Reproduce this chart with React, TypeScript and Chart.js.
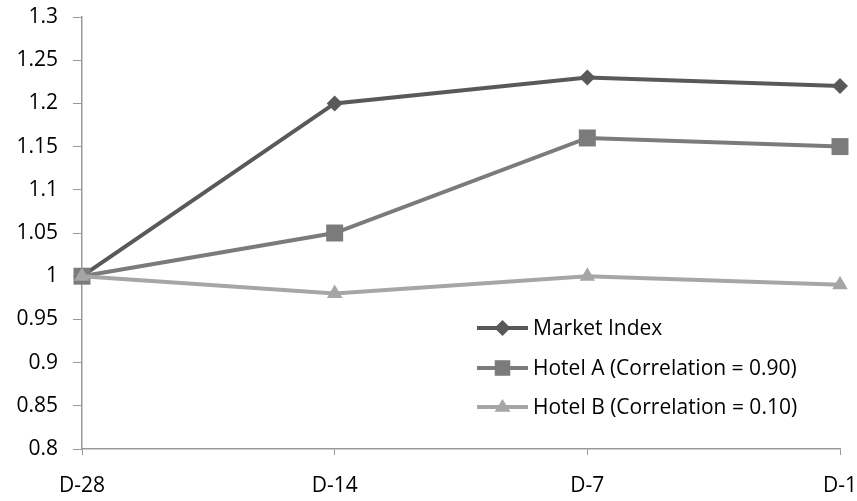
import React, { useEffect, useRef } from "react";
import { Chart, registerables } from "chart.js";

Chart.register(...registerables);

const categories = ["D-28", "D-14", "D-7", "D-1"];
const marketIndex = [1.0, 1.2, 1.23, 1.22];
const hotelA = [1.0, 1.05, 1.16, 1.15];
const hotelB = [1.0, 0.98, 1.0, 0.99];
const seriesNames = ["Market Index", "Hotel A (Correlation = 0.90)", "Hotel B (Correlation = 0.10)"];
const yTickLabels = ["0.8", "0.85", "0.9", "0.95", "1", "1.05", "1.1", "1.15", "1.2", "1.25", "1.3"];

const FONT = "Open Sans";
const FONT_SIZE = 21;
const colors = ["#595959", "#7b7b7b", "#a6a6a6"];
const styles: any[] = ["rectRot", "rect", "triangle"];
const radii = [8, 12, 9];

function drawMarker(ctx: CanvasRenderingContext2D, style: string, x: number, y: number, r: number) {
  ctx.beginPath();
  if (style === "rectRot") {
    ctx.moveTo(x - r, y);
    ctx.lineTo(x, y - r);
    ctx.lineTo(x + r, y);
    ctx.lineTo(x, y + r);
  } else if (style === "rect") {
    const s = Math.SQRT1_2 * r;
    ctx.rect(x - s, y - s, 2 * s, 2 * s);
  } else {
    ctx.moveTo(x, y - r);
    ctx.lineTo(x + r, y + r * 0.6);
    ctx.lineTo(x - r, y + r * 0.6);
  }
  ctx.closePath();
  ctx.fill();
}

const legendPlugin = {
  id: "customLegend",
  afterDraw(chart: any) {
    const ctx = chart.ctx;
    const rowsY = [328, 368, 407];
    const x0 = 477;
    const x1 = 528;
    ctx.save();
    seriesNames.forEach((name, i) => {
      const y = rowsY[i];
      ctx.strokeStyle = colors[i];
      ctx.lineWidth = 4;
      ctx.beginPath();
      ctx.moveTo(x0, y);
      ctx.lineTo(x1, y);
      ctx.stroke();
      ctx.fillStyle = colors[i];
      drawMarker(ctx, styles[i], (x0 + x1) / 2, y, i === 1 ? 11 : 8);
      ctx.fillStyle = "#000";
      ctx.font = `${FONT_SIZE}px "${FONT}"`;
      ctx.textAlign = "left";
      ctx.textBaseline = "middle";
      ctx.fillText(name, 533, y + 1);
    });
    ctx.restore();
  },
};

export default function App() {
  const ref = useRef<HTMLCanvasElement | null>(null);
  useEffect(() => {
    if (!ref.current) return;
    const datasets = [marketIndex, hotelA, hotelB].map((d, i) => ({
      label: seriesNames[i],
      data: d,
      borderColor: colors[i],
      backgroundColor: colors[i],
      borderWidth: 4,
      pointStyle: styles[i],
      pointRadius: radii[i],
      pointBorderWidth: 0,
      pointBackgroundColor: colors[i],
      tension: 0,
      order: 3 - i,
    }));
    const chart = new Chart(ref.current, {
      type: "line",
      data: { labels: categories, datasets },
      plugins: [legendPlugin],
      options: {
        animation: false,
        responsive: false,
        maintainAspectRatio: false,
        layout: { padding: { top: 17, right: 0, left: 0, bottom: 0 } },
        plugins: { legend: { display: false }, tooltip: { enabled: false } },
        scales: {
          x: {
            offset: false,
            grid: { drawOnChartArea: false, drawTicks: true, tickLength: 6, color: "#999" },
            border: { display: true, color: "#999", width: 1.5 },
            ticks: { color: "#000", font: { family: FONT, size: FONT_SIZE }, padding: 18, maxRotation: 0 },
            afterFit: (s: any) => {
              s.height = 52;
              s.paddingRight = 17;
              s.paddingLeft = 0;
            },
          },
          y: {
            min: 0.8,
            max: 1.3,
            grid: { drawOnChartArea: false, drawTicks: true, tickLength: 9, color: "#999" },
            border: { display: true, color: "#999", width: 1.5 },
            ticks: {
              stepSize: 0.05,
              color: "#000",
              font: { family: FONT, size: FONT_SIZE },
              padding: 15,
              callback: (_v: any, idx: number) => yTickLabels[idx],
            },
            afterFit: (s: any) => {
              s.width = 82;
              s.paddingTop = 0;
              s.paddingBottom = 0;
            },
          },
        },
      },
    });
    return () => chart.destroy();
  }, []);
  return (
    <div style={{ position: "absolute", left: 0, top: 0, width: 857, height: 501, background: "#fff" }}>
      <canvas ref={ref} width={857} height={501} style={{ width: 857, height: 501 }} />
    </div>
  );
}
